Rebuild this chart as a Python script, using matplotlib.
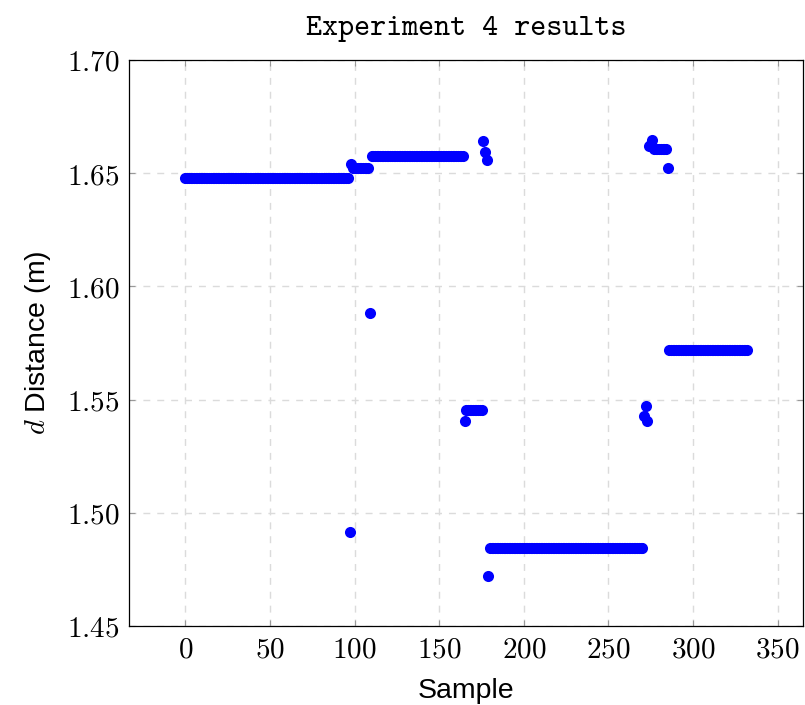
import numpy as np
import matplotlib
matplotlib.use('Agg')
import matplotlib.pyplot as plt
from matplotlib.ticker import FuncFormatter

# runs of equal readings: first sample, last sample, distance [m]
run_first = [0, 97, 98, 99, 109, 110, 165, 166, 176, 177, 178, 179, 180,
             271, 272, 273, 274, 275, 276, 277, 285, 286]
run_last = [96, 97, 98, 108, 109, 164, 165, 175, 176, 177, 178, 179, 270,
            271, 272, 273, 274, 275, 276, 284, 285, 332]
run_dist = [1.6477, 1.4913, 1.6540, 1.6525, 1.5881, 1.6574, 1.5406, 1.5452,
            1.6644, 1.6594, 1.6559, 1.4719, 1.4846, 1.5427, 1.5471, 1.5405,
            1.6618, 1.6630, 1.6647, 1.6605, 1.6522, 1.5718]

xticks = [0, 50, 100, 150, 200, 250, 300, 350]
yticks = [1.45, 1.50, 1.55, 1.60, 1.65, 1.70]

counts = np.array(run_last) - np.array(run_first) + 1
sample = np.arange(run_first[0], run_last[-1] + 1)
dist = np.repeat(run_dist, counts)

plt.rcParams['mathtext.fontset'] = 'cm'
plt.rcParams['font.family'] = ['Liberation Sans', 'DejaVu Sans']

fig = plt.figure(figsize=(8.05, 7.05), dpi=100)
ax = fig.add_axes([0.1606, 0.1121, 0.8373, 0.8028])

ax.plot(sample, dist, 'o', color='blue', ms=8, mew=0, zorder=3)

ax.set_xlim(-33.2, 365.2)
ax.set_ylim(1.45, 1.70)
ax.set_xticks(xticks)
ax.set_yticks(yticks)
ax.xaxis.set_major_formatter(FuncFormatter(lambda v, p: r'$%d$' % v))
ax.yaxis.set_major_formatter(FuncFormatter(lambda v, p: r'$%.2f$' % v))
ax.tick_params(direction='in', length=4, width=0.8, color='0.6',
               labelsize=21, pad=7, top=True, right=True)
ax.grid(True, color='0.86', linestyle=(0, (5, 5)), linewidth=1)
ax.set_axisbelow(True)
for s in ax.spines.values():
    s.set_linewidth(0.9)

ax.set_title('Experiment 4 results', family='cmtt10', fontsize=22, pad=18)
ax.set_xlabel('Sample', fontsize=20.5, labelpad=10)
ax.set_ylabel(r'$d$ Distance (m)', fontsize=20.5, labelpad=10)

plt.savefig('out.png', dpi=100)
